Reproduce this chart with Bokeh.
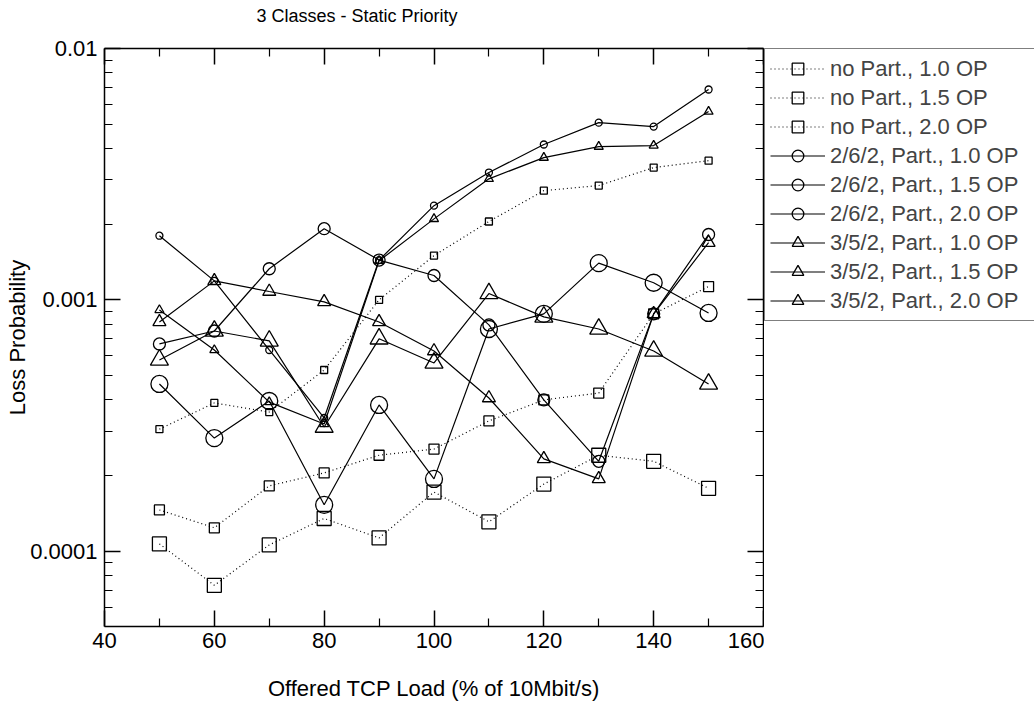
from bokeh.plotting import figure
from bokeh.layouts import row, column
from bokeh.models import (LinearAxis, LogAxis, FixedTicker, PrintfTickFormatter,
                          CustomJSTickFormatter, Legend, LegendItem, Range1d, Label)
from bokeh.embed import file_html
from bokeh.resources import INLINE

# ---- data ----
load = [50, 60, 70, 80, 90, 100, 110, 120, 130, 140, 150]

nopart_10 = [3.06e-4, 3.89e-4, 3.58e-4, 5.26e-4, 1.00e-3, 1.50e-3, 2.05e-3, 2.72e-3, 2.85e-3, 3.36e-3, 3.58e-3]
nopart_15 = [1.46e-4, 1.24e-4, 1.82e-4, 2.05e-4, 2.41e-4, 2.55e-4, 3.30e-4, 4.00e-4, 4.26e-4, 8.80e-4, 1.13e-3]
nopart_20 = [1.07e-4, 7.32e-5, 1.06e-4, 1.35e-4, 1.13e-4, 1.72e-4, 1.31e-4, 1.85e-4, 2.41e-4, 2.28e-4, 1.78e-4]
p262_10 = [1.80e-3, 1.19e-3, 6.32e-4, 3.39e-4, 1.44e-3, 2.37e-3, 3.21e-3, 4.15e-3, 5.07e-3, 4.89e-3, 6.87e-3]
p262_15 = [6.68e-4, 7.52e-4, 1.33e-3, 1.92e-3, 1.44e-3, 1.25e-3, 7.95e-4, 4.00e-4, 2.28e-4, 8.80e-4, 1.82e-3]
p262_20 = [4.63e-4, 2.82e-4, 3.96e-4, 1.53e-4, 3.82e-4, 1.94e-4, 7.66e-4, 8.80e-4, 1.40e-3, 1.17e-3, 8.87e-4]
p352_10 = [9.12e-4, 6.32e-4, 3.92e-4, 3.21e-4, 1.43e-3, 2.10e-3, 3.03e-3, 3.68e-3, 4.07e-3, 4.11e-3, 5.61e-3]
p352_15 = [8.17e-4, 1.19e-3, 1.08e-3, 9.82e-4, 8.17e-4, 6.26e-4, 4.07e-4, 2.33e-4, 1.94e-4, 8.80e-4, 1.69e-3]
p352_20 = [5.77e-4, 7.52e-4, 6.87e-4, 3.12e-4, 7.00e-4, 5.61e-4, 1.06e-3, 8.56e-4, 7.66e-4, 6.26e-4, 4.63e-4]

labels = ["no Part., 1.0 OP", "no Part., 1.5 OP", "no Part., 2.0 OP",
          "2/6/2, Part., 1.0 OP", "2/6/2, Part., 1.5 OP", "2/6/2, Part., 2.0 OP",
          "3/5/2, Part., 1.0 OP", "3/5/2, Part., 1.5 OP", "3/5/2, Part., 2.0 OP"]

x_major = [40, 60, 80, 100, 120, 140, 160]
x_minor = [50, 70, 90, 110, 130, 150]
y_major = [1e-4, 1e-3, 1e-2]
y_minor = [m * 10.0 ** e for e in (-5, -4, -3) for m in range(2, 10)]

title_text = "3 Classes - Static Priority"
x_label = "Offered TCP Load (% of 10Mbit/s)"
y_label = "Loss Probability"

FONT = "Liberation Sans"
W, H = 1034, 708
TITLE_H = 28
LEFT, FRAME_W, FRAME_H, TOP, BOTTOM = 104, 659, 578, 48, 82
PLOT_W = LEFT + FRAME_W + 1
PLOT_H = H - TITLE_H

# ---------------- title strip ----------------
tfig = figure(width=W, height=TITLE_H, x_range=Range1d(0, W), y_range=Range1d(0, TITLE_H),
              title=None, x_axis_location=None, y_axis_location=None,
              output_backend="svg", toolbar_location=None,
              min_border=0, min_border_left=0, min_border_right=0,
              min_border_top=0, min_border_bottom=0)
tfig.xgrid.visible = False
tfig.ygrid.visible = False
tfig.outline_line_color = None
tfig.add_layout(Label(x=256, y=TITLE_H - 15, text=title_text, text_font=FONT,
                      text_font_size="18px", text_baseline="middle", text_align="left",
                      text_color="black"))

# ---------------- main plot ----------------
p = figure(width=PLOT_W, height=PLOT_H, x_range=Range1d(40, 160),
           y_range=Range1d(5.02e-5, 1e-2), title=None,
           y_axis_type="log", x_axis_location=None, y_axis_location=None,
           output_backend="svg", toolbar_location=None,
           min_border_left=LEFT, min_border_right=1,
           min_border_top=TOP - TITLE_H, min_border_bottom=BOTTOM)
p.xgrid.visible = False
p.ygrid.visible = False
p.outline_line_color = None
p.background_fill_color = "white"
p.border_fill_color = "white"

xt = FixedTicker(ticks=x_major, minor_ticks=x_minor)
yt = FixedTicker(ticks=y_major, minor_ticks=y_minor)
blank = CustomJSTickFormatter(code="return ''")


def style(ax):
    ax.axis_line_color = "black"
    ax.axis_line_width = 1.5
    ax.major_tick_line_color = "black"
    ax.minor_tick_line_color = "black"
    ax.major_tick_line_width = 1.5
    ax.minor_tick_line_width = 1.2
    ax.major_tick_in = 16
    ax.major_tick_out = 0
    ax.minor_tick_in = 8
    ax.minor_tick_out = 0
    ax.major_label_text_font = FONT
    ax.major_label_text_color = "black"
    ax.major_label_text_font_size = "22px"
    ax.axis_label_text_font = FONT
    ax.axis_label_text_font_size = "22px"
    ax.axis_label_text_font_style = "normal"
    ax.axis_label_text_color = "black"


xb = LinearAxis(ticker=xt, axis_label=x_label)
style(xb)
xb.major_label_standoff = 6
xb.axis_label_standoff = 25
xa = LinearAxis(ticker=xt, formatter=blank)
style(xa)
xa.major_label_standoff = 0
yl = LogAxis(ticker=yt, formatter=PrintfTickFormatter(format="%g"), axis_label=y_label)
style(yl)
yl.major_label_standoff = 7
yl.axis_label_standoff = -3
yr = LogAxis(ticker=yt, formatter=blank)
style(yr)
yr.major_label_standoff = 0

p.add_layout(xb, "below")
p.add_layout(xa, "above")
p.add_layout(yl, "left")
p.add_layout(yr, "right")

series = [nopart_10, nopart_15, nopart_20, p262_10, p262_15, p262_20, p352_10, p352_15, p352_20]
markers = ["square"] * 3 + ["circle"] * 3 + ["triangle"] * 3
sizes = [7, 10, 14, 7, 12, 17, 9, 13, 18]
dashes = ["1 3"] * 3 + ["solid"] * 6

# ---------------- legend panel ----------------
LEG_W = W - PLOT_W
lfig = figure(width=LEG_W, height=PLOT_H, x_range=Range1d(0, 1), y_range=Range1d(0, 1),
              title=None, x_axis_location=None, y_axis_location=None,
              output_backend="svg", toolbar_location=None,
              min_border=0, min_border_left=0, min_border_right=0,
              min_border_top=TOP - TITLE_H, min_border_bottom=BOTTOM)
lfig.xgrid.visible = False
lfig.ygrid.visible = False
lfig.outline_line_color = None

items = []
for vals, mk, sz, dash, lab in zip(series, markers, sizes, dashes, labels):
    p.line(load, vals, line_color="black", line_width=1.2, line_dash=dash)
    p.scatter(load, vals, marker=mk, size=sz, line_color="black", line_width=1.3,
              fill_color=None)
    # legend samples (data lie outside this panel's range, so only the key shows)
    ln = lfig.line(load, vals, line_color="black", line_width=1.2, line_dash=dash)
    sc = lfig.scatter(load, vals, marker=mk, size=sz, line_color="black", line_width=1.3,
                      fill_color=None)
    items.append(LegendItem(label=lab, renderers=[ln, sc]))

ROW_H, PAD = 29, 5
legend = Legend(items=items, location="top_left", margin=0,
                padding=PAD, spacing=0, glyph_width=55, glyph_height=ROW_H,
                label_height=ROW_H, label_standoff=5, label_width=212,
                label_text_font=FONT, label_text_font_size="22px",
                border_line_color="black", border_line_width=1.5,
                background_fill_color="white", background_fill_alpha=1.0)
lfig.add_layout(legend, "center")

layout = column(tfig, row(p, lfig, spacing=0), spacing=0)
open("out.html", "w").write(file_html(layout, INLINE))
